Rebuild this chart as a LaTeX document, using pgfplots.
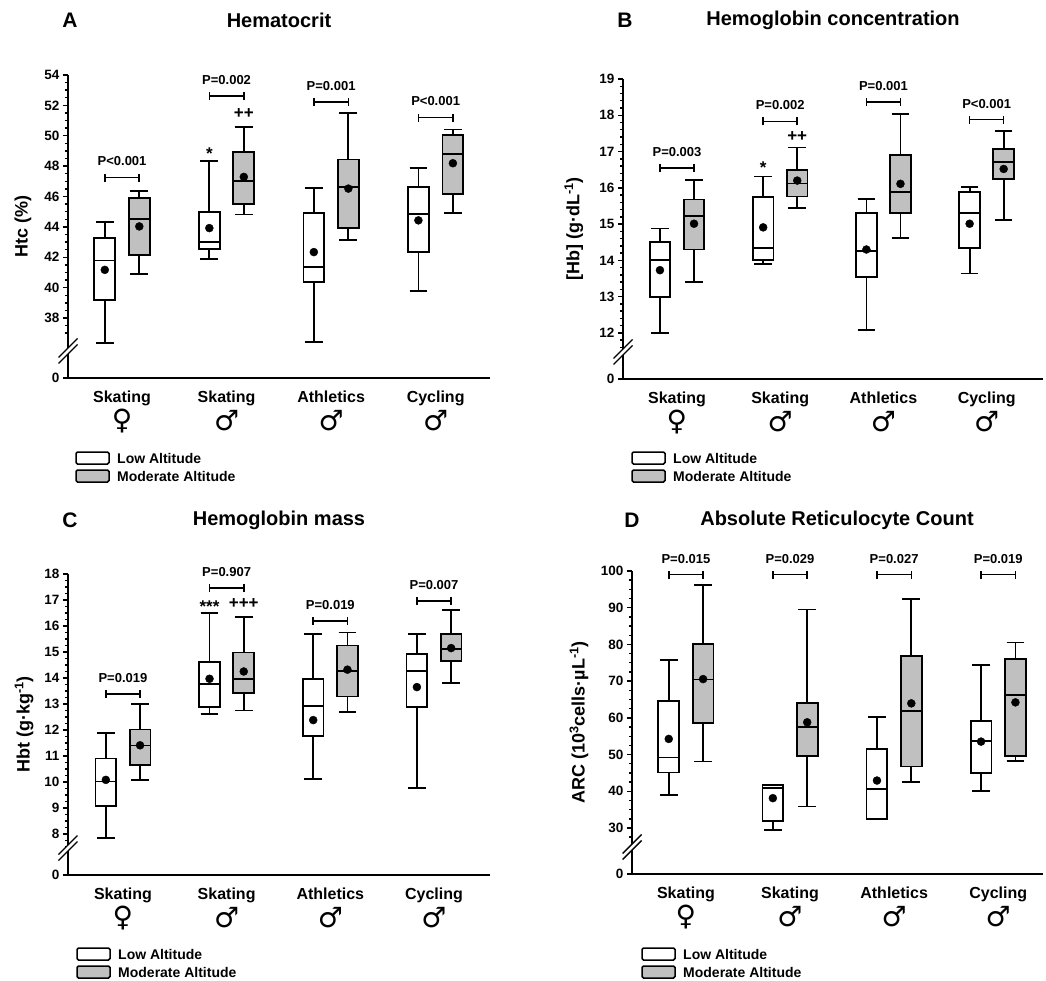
\documentclass[border=0pt]{standalone}
\usepackage{fontspec}
\setmainfont{Liberation Sans}
\newfontfamily\symf{DejaVu Sans}
\usepackage{pgfplots}
\pgfplotsset{compat=1.18}
\usepgfplotslibrary{statistics}
\definecolor{boxgray}{RGB}{192,192,192}
\newcommand{\fs}[1]{\fontsize{#1}{#1}\selectfont}

\pgfplotsset{
  panel/.style={
    scale only axis, clip=false, anchor=south west,
    axis lines*=left, axis line style={-, line width=1.8pt},
    xtick={1,2,3,4}, xticklabels={Skating,Skating,Athletics,Cycling},
    x tick style={draw=none},
    xticklabel style={font=\bfseries\fs{16}, anchor=base, yshift=-19pt},
    tick align=outside, ytick pos=left,
    major tick length=5pt, minor tick length=3pt,
    y tick style={line width=1.4pt, black},
    yticklabel style={font=\bfseries\fs{13.5}},
    ylabel style={font=\bfseries\fs{18}, anchor=center},
    boxplot/draw direction=y,
    boxplot/box extend=0.2, boxplot/whisker extend=0.17,
    boxplot/every median/.style={line width=1.8pt, black},
    boxplot/every whisker/.style={line width=1.8pt, black},
    boxplot/every box/.style={line width=1.8pt, draw=black},
  },
  lowbox/.style={draw=black, line width=1.8pt, fill=white},
  modbox/.style={draw=black, line width=1.8pt, fill=boxgray},
  meanpts/.style={only marks, mark=*, mark size=4pt, black},
}
% box: position, style, lower whisker, lower quartile, median, upper quartile, upper whisker
\newcommand{\bx}[7]{\addplot[#2, boxplot prepared={draw position=#1,
  lower whisker=#3, lower quartile=#4, median=#5, upper quartile=#6, upper whisker=#7}] coordinates {};}
% P bracket: left x, right x, centre x, y, text
\newcommand{\pbr}[5]{%
  \draw[line width=1.6pt] (axis cs:#1,#4) -- (axis cs:#2,#4);
  \draw[line width=1.6pt] ([yshift=-4pt]axis cs:#1,#4) -- ([yshift=4pt]axis cs:#1,#4);
  \draw[line width=1.6pt] ([yshift=-4pt]axis cs:#2,#4) -- ([yshift=4pt]axis cs:#2,#4);
  \node[font=\bfseries\fs{13}, yshift=16pt] at (axis cs:#3,#4) {#5};}
\newcommand{\sexsym}[3]{\node[font=\symf\fs{28}, yshift=-43pt] at (axis cs:#1,#2) {#3};}
\newcommand{\brk}[2]{%
  \fill[white] (#1pt-9.5pt,-#2pt-6.5pt) -- (#1pt+9.5pt,-#2pt+12.5pt) -- (#1pt+9.5pt,-#2pt+6.5pt) -- (#1pt-9.5pt,-#2pt-12.5pt) -- cycle;
  \draw[line width=1.4pt] (#1pt-9.5pt,-#2pt-6.5pt) -- (#1pt+9.5pt,-#2pt+12.5pt);
  \draw[line width=1.4pt] (#1pt-9.5pt,-#2pt-12.5pt) -- (#1pt+9.5pt,-#2pt+6.5pt);}
\newcommand{\leg}[2]{%
  \draw[line width=1.5pt, rounded corners=1.5pt, fill=white] (#1pt,-#2pt) rectangle ++(33pt,-12pt);
  \draw[line width=1.5pt, rounded corners=1.5pt, fill=boxgray] (#1pt,-#2pt-18pt) rectangle ++(33pt,-12pt);
  \node[anchor=west, inner sep=0pt, font=\bfseries\fs{14}] at (#1pt+41pt,-#2pt-6pt) {Low Altitude};
  \node[anchor=west, inner sep=0pt, font=\bfseries\fs{14}] at (#1pt+41pt,-#2pt-24pt) {Moderate Altitude};}

\begin{document}
\begin{tikzpicture}
\useasboundingbox (0,0) rectangle (1046pt,-981pt);

% ---------------- A: Hematocrit
\begin{axis}[panel, at={(68pt,-378pt)}, width=422pt, height=303pt,
  xmin=0.483, xmax=4.52, ymin=34.05, ymax=54,
  ytick={34.05,38,40,42,44,46,48,50,52,54},
  yticklabels={0,38,40,42,44,46,48,50,52,54},
  minor ytick={37,37.5,...,54},
  ylabel={Htc (\%)}, ylabel style={at={(axis description cs:-0.107,0.5)}}]
\bx{0.835}{lowbox}{36.35}{39.21}{41.79}{43.26}{44.32}
\bx{1.165}{modbox}{40.91}{42.16}{44.54}{45.88}{46.34}
\bx{1.835}{lowbox}{41.9}{42.56}{43.0}{44.98}{48.35}
\bx{2.165}{modbox}{44.82}{45.48}{47.0}{48.92}{50.59}
\bx{2.835}{lowbox}{36.4}{40.36}{41.35}{44.94}{46.54}
\bx{3.165}{modbox}{43.15}{43.94}{46.63}{48.43}{51.51}
\bx{3.835}{lowbox}{39.76}{42.34}{44.83}{46.6}{47.88}
\bx{4.165}{modbox}{44.93}{46.19}{48.79}{50.04}{50.41}
\addplot[meanpts] coordinates {(0.835,41.17) (1.165,44.03) (1.835,43.92) (2.165,47.29)
  (2.835,42.34) (3.165,46.52) (3.835,44.43) (4.165,48.19)};
\pbr{0.835}{1.165}{1}{47.25}{P<0.001}
\pbr{1.835}{2.165}{2}{52.6}{P=0.002}
\pbr{2.835}{3.165}{3}{52.24}{P=0.001}
\pbr{3.835}{4.165}{4}{51.2}{P<0.001}
\node[font=\bfseries\fs{17}, anchor=base, yshift=-9.7pt] at (axis cs:1.835,49.05) {*};
\node[font=\bfseries\fs{17}, anchor=base, yshift=-5.8pt] at (axis cs:2.165,51.5) {++};
\sexsym{1}{34.05}{♀}\sexsym{2}{34.05}{♂}\sexsym{3}{34.05}{♂}\sexsym{4}{34.05}{♂}
\end{axis}

% ---------------- B: Hemoglobin concentration
\begin{axis}[panel, at={(623pt,-379pt)}, width=420pt, height=300pt,
  xmin=0.477, xmax=4.546, ymin=10.73, ymax=19,
  ytick={10.73,12,13,14,15,16,17,18,19},
  yticklabels={0,12,13,14,15,16,17,18,19},
  minor ytick={11.6,11.8,...,19},
  ylabel={[Hb] (g·dL\textsuperscript{-1})}, ylabel style={at={(axis description cs:-0.117,0.5)}}]
\bx{0.835}{lowbox}{12.0}{12.99}{14.0}{14.51}{14.88}
\bx{1.165}{modbox}{13.40}{14.30}{15.22}{15.68}{16.22}
\bx{1.835}{lowbox}{13.9}{14.0}{14.34}{15.74}{16.31}
\bx{2.165}{modbox}{15.44}{15.76}{16.12}{16.50}{17.11}
\bx{2.835}{lowbox}{12.09}{13.55}{14.25}{15.31}{15.70}
\bx{3.165}{modbox}{14.62}{15.31}{15.89}{16.90}{18.04}
\bx{3.835}{lowbox}{13.64}{14.34}{15.31}{15.89}{16.02}
\bx{4.165}{modbox}{15.12}{16.25}{16.71}{17.07}{17.56}
\addplot[meanpts] coordinates {(0.835,13.73) (1.165,15.01) (1.835,14.91) (2.165,16.2)
  (2.835,14.30) (3.165,16.11) (3.835,15.01) (4.165,16.52)};
\pbr{0.835}{1.165}{1}{16.55}{P=0.003}
\pbr{1.835}{2.165}{2}{17.83}{P=0.002}
\pbr{2.835}{3.165}{3}{18.36}{P=0.001}
\pbr{3.835}{4.165}{4}{17.88}{P<0.001}
\node[font=\bfseries\fs{17}, anchor=base, yshift=-9.7pt] at (axis cs:1.835,16.66) {*};
\node[font=\bfseries\fs{17}, anchor=base, yshift=-5.8pt] at (axis cs:2.165,17.44) {++};
\sexsym{1}{10.73}{♀}\sexsym{2}{10.73}{♂}\sexsym{3}{10.73}{♂}\sexsym{4}{10.73}{♂}
\end{axis}

% ---------------- C: Hemoglobin mass
\begin{axis}[panel, at={(68pt,-875pt)}, width=422pt, height=301pt,
  xmin=0.47, xmax=4.54, ymin=6.42, ymax=18,
  ytick={6.42,8,9,10,11,12,13,14,15,16,17,18},
  yticklabels={0,8,9,10,11,12,13,14,15,16,17,18},
  minor ytick={7.5,7.75,...,18},
  ylabel={Hbt (g·kg\textsuperscript{-1})}, ylabel style={at={(axis description cs:-0.104,0.5)}}]
\bx{0.835}{lowbox}{7.83}{9.08}{10.02}{10.90}{11.88}
\bx{1.165}{modbox}{10.08}{10.66}{11.40}{12.02}{12.99}
\bx{1.835}{lowbox}{12.62}{12.88}{13.76}{14.62}{16.50}
\bx{2.165}{modbox}{12.75}{13.42}{13.97}{14.98}{16.36}
\bx{2.835}{lowbox}{10.11}{11.77}{12.93}{13.97}{15.69}
\bx{3.165}{modbox}{12.69}{13.29}{14.26}{15.25}{15.75}
\bx{3.835}{lowbox}{9.78}{12.87}{14.28}{14.93}{15.69}
\bx{4.165}{modbox}{13.80}{14.66}{15.10}{15.69}{16.60}
\addplot[meanpts] coordinates {(0.835,10.08) (1.165,11.41) (1.835,13.97) (2.165,14.25)
  (2.835,12.38) (3.165,14.32) (3.835,13.65) (4.165,15.15)};
\pbr{0.835}{1.165}{1}{13.39}{P=0.019}
\pbr{1.835}{2.165}{2}{17.46}{P=0.907}
\pbr{2.835}{3.165}{3}{16.19}{P=0.019}
\pbr{3.835}{4.165}{4}{16.97}{P=0.007}
\node[font=\bfseries\fs{17}, anchor=base, yshift=-9.7pt] at (axis cs:1.835,16.88) {***};
\node[font=\bfseries\fs{17}, anchor=base, yshift=-5.8pt] at (axis cs:2.165,16.88) {+++};
\sexsym{1}{6.42}{♀}\sexsym{2}{6.42}{♂}\sexsym{3}{6.42}{♂}\sexsym{4}{6.42}{♂}
\end{axis}

% ---------------- D: Absolute Reticulocyte Count
\begin{axis}[panel, at={(632pt,-874pt)}, width=411pt, height=303pt,
  xmin=0.482, xmax=4.43, ymin=17.47, ymax=100,
  ytick={17.47,30,40,50,60,70,80,90,100},
  yticklabels={0,30,40,50,60,70,80,90,100},
  minor ytick={27.5,30,...,100},
  ylabel={ARC (10\textsuperscript{3}cells·µL\textsuperscript{-1})}, ylabel style={at={(axis description cs:-0.129,0.5)}}]
\bx{0.835}{lowbox}{39.04}{45.11}{49.18}{64.58}{75.72}
\bx{1.165}{modbox}{48.1}{58.51}{70.47}{80.07}{96.29}
\bx{1.835}{lowbox}{29.53}{31.97}{40.85}{41.76}{41.76}
\bx{2.165}{modbox}{35.87}{49.64}{57.61}{64.13}{89.49}
\bx{2.835}{lowbox}{32.52}{32.52}{40.58}{51.54}{60.14}
\bx{3.165}{modbox}{42.48}{46.74}{61.96}{76.81}{92.3}
\bx{3.835}{lowbox}{40.13}{44.93}{53.71}{59.24}{74.37}
\bx{4.165}{modbox}{48.28}{49.64}{66.21}{76.0}{80.53}
\addplot[meanpts] coordinates {(0.835,54.26) (1.165,70.56) (1.835,38.13) (2.165,58.79)
  (2.835,42.93) (3.165,63.95) (3.835,53.53) (4.165,64.22)};
\pbr{0.835}{1.165}{1}{99.0}{P=0.015}
\pbr{1.835}{2.165}{2}{99.0}{P=0.029}
\pbr{2.835}{3.165}{3}{99.0}{P=0.027}
\pbr{3.835}{4.165}{4}{99.0}{P=0.019}
\sexsym{1}{17.47}{♀}\sexsym{2}{17.47}{♂}\sexsym{3}{17.47}{♂}\sexsym{4}{17.47}{♂}
\end{axis}

% axis breaks
\brk{68}{351}\brk{623}{352}\brk{68}{848}\brk{632}{847}

% legends
\leg{76}{452}\leg{632}{452}\leg{77}{948}\leg{642}{948}

% titles
\node[font=\bfseries\fs{21}] at (70pt,-20pt) {A};
\node[font=\bfseries\fs{20}] at (279pt,-20pt) {Hematocrit};
\node[font=\bfseries\fs{21}] at (625pt,-20pt) {B};
\node[font=\bfseries\fs{20}] at (833pt,-20pt) {Hemoglobin concentration};
\node[font=\bfseries\fs{21}] at (70pt,-520pt) {C};
\node[font=\bfseries\fs{20}] at (279pt,-520pt) {Hemoglobin mass};
\node[font=\bfseries\fs{21}] at (632pt,-520pt) {D};
\node[font=\bfseries\fs{20}] at (837pt,-520pt) {Absolute Reticulocyte Count};
\end{tikzpicture}
\end{document}
